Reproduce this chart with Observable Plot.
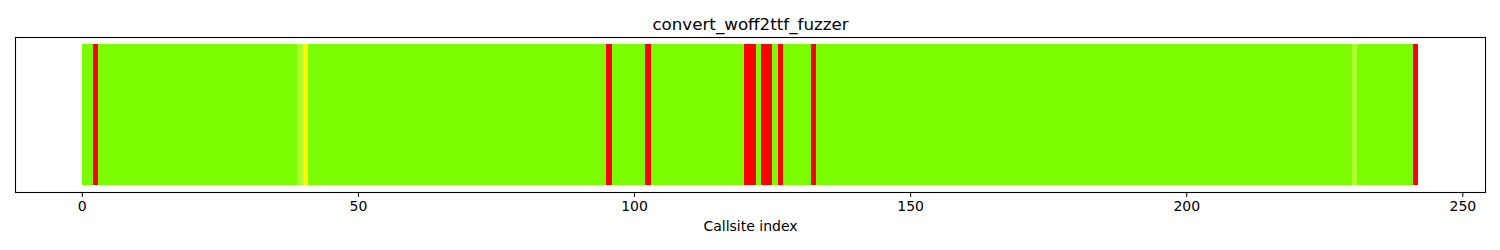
<!DOCTYPE html>
<html>
<head>
<meta charset="utf-8">
<script src="https://cdn.jsdelivr.net/npm/d3@7"></script>
<script src="https://cdn.jsdelivr.net/npm/@observablehq/plot@0.6"></script>
<style>
  html, body { margin: 0; padding: 0; background: white; }
</style>
</head>
<body>
<div id="chart"></div>
<script>
const chartTitle = "convert_woff2ttf_fuzzer";
const xLabel = "Callsite index";
const callsiteCount = 242;
const redIndices = [2, 95, 102, 120, 121, 123, 124, 126, 132, 241];
const yellowIndices = [40];
const lightGreenIndices = [39, 230];
const xTicks = [0, 50, 100, 150, 200, 250];
const statusColors = {
  green: "#7cfc00",
  red: "#ff0000",
  yellow: "#ffff00",
  light: "#adff2f"
};

const cells = d3.range(callsiteCount).map(i => ({
  index: i,
  status: redIndices.includes(i) ? "red"
        : yellowIndices.includes(i) ? "yellow"
        : lightGreenIndices.includes(i) ? "light"
        : "green"
}));

const pad = callsiteCount * 0.05;

const chart = Plot.plot({
  width: 1500,
  height: 250,
  marginLeft: 15,
  marginRight: 15,
  marginTop: 37,
  marginBottom: 58,
  style: {fontFamily: "DejaVu Sans", fontSize: "14px", background: "white", color: "black"},
  x: {domain: [-pad, callsiteCount + pad], label: null},
  y: {domain: [-0.05, 1.05], axis: null},
  marks: [
    Plot.rect(cells, {
      x1: d => d.index,
      x2: d => d.index + 1,
      y1: () => 0,
      y2: () => 1,
      fill: d => statusColors[d.status],
      shapeRendering: "crispEdges"
    }),
    Plot.frame({stroke: "black", strokeWidth: 1.1}),
    Plot.axisX({ticks: xTicks, tickSize: 5, tickPadding: 4, fontSize: 14, label: null}),
    Plot.text([xLabel], {frameAnchor: "bottom", dy: 38, fontSize: 14, fill: "black"}),
    Plot.text([chartTitle], {frameAnchor: "top", dy: -19, fontSize: 16.7, fill: "black"})
  ]
});
document.getElementById("chart").appendChild(chart);
</script>
</body>
</html>
